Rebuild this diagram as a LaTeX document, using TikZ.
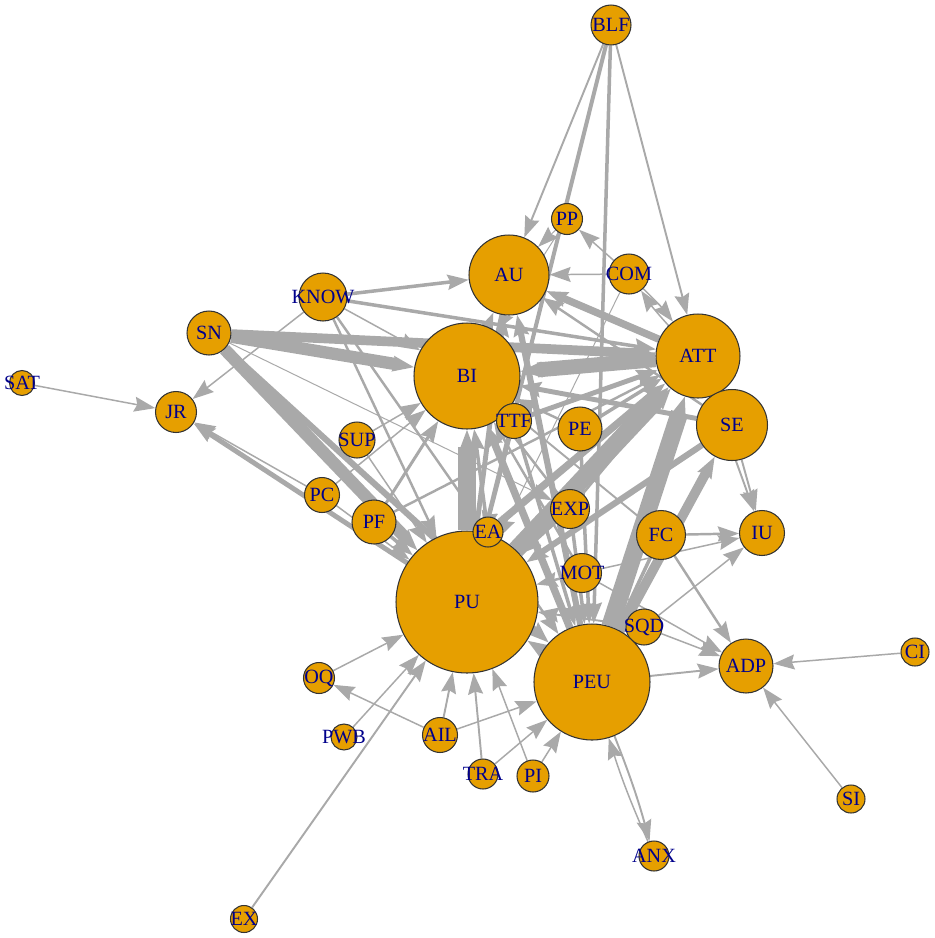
\documentclass[tikz,border=0pt]{standalone}
\usepackage{fontspec}
\setmainfont{Liberation Serif}
\usetikzlibrary{arrows.meta}
\usetikzlibrary{backgrounds}
\definecolor{vfill}{HTML}{E69F00}
\definecolor{vtext}{HTML}{00008B}
\definecolor{egray}{HTML}{A9A9A9}
\tikzset{x=0.02cm, y=-0.02cm,
vtx/.style={ % one disc per construct
circle, draw=black!80, line width=0.6pt,
fill=vfill, inner sep=0pt, minimum size=#1},
every label/.style={text=vtext, font=\fontsize{11.5}{11.5}\selectfont},
every edge/.style={ % directed path, width = weight
draw=egray,
-{Stealth[length=12pt,width=8.5pt,inset=1.5pt]}},
wt/.style={line width=#1pt}}

\begin{document}
\begin{tikzpicture}
\useasboundingbox (0,0) rectangle (935,938);
\node[vtx=0.80cm, label=center:BLF] (BLF) at (611,25) {};
\node[vtx=0.62cm, label=center:PP] (PP) at (567,219) {};
\node[vtx=1.60cm, label=center:AU] (AU) at (509,275) {};
\node[vtx=0.80cm, label=center:COM] (COM) at (629,274) {};
\node[vtx=0.96cm, label=center:KNOW] (KNOW) at (323,297) {};
\node[vtx=0.88cm, label=center:SN] (SN) at (209,333) {};
\node[vtx=1.68cm, label=center:ATT] (ATT) at (698,356) {};
\node[vtx=2.12cm, label=center:BI] (BI) at (467,376) {};
\node[vtx=0.50cm, label=center:SAT] (SAT) at (22,383) {};
\node[vtx=0.82cm, label=center:JR] (JR) at (176,412) {};
\node[vtx=0.70cm, label=center:TTF] (TTF) at (514,421) {};
\node[vtx=0.88cm, label=center:PE] (PE) at (580,429) {};
\node[vtx=1.42cm, label=center:SE] (SE) at (732,425) {};
\node[vtx=0.72cm, label=center:SUP] (SUP) at (357,440) {};
\node[vtx=0.70cm, label=center:PC] (PC) at (322,495) {};
\node[vtx=0.88cm, label=center:PF] (PF) at (374,522) {};
\node[vtx=0.78cm, label=center:EXP] (EXP) at (570,509) {};
\node[vtx=0.98cm, label=center:FC] (FC) at (661,535) {};
\node[vtx=0.90cm, label=center:IU] (IU) at (762,533) {};
\node[vtx=0.78cm, label=center:MOT] (MOT) at (582,573) {};
\node[vtx=2.84cm, label=center:PU] (PU) at (467,602) {};
\node[vtx=0.60cm, label=center:EA] (EA) at (488,532) {};
\node[vtx=0.72cm, label=center:SQD] (SQD) at (644,627) {};
\node[vtx=2.32cm, label=center:PEU] (PEU) at (592,682) {};
\node[vtx=1.08cm, label=center:ADP] (ADP) at (746,666) {};
\node[vtx=0.56cm, label=center:CI] (CI) at (915,652) {};
\node[vtx=0.62cm, label=center:OQ] (OQ) at (319,678) {};
\node[vtx=0.52cm, label=center:PWB] (PWB) at (344,737) {};
\node[vtx=0.70cm, label=center:AIL] (AIL) at (440,735) {};
\node[vtx=0.60cm, label=center:TRA] (TRA) at (483,774) {};
\node[vtx=0.64cm, label=center:PI] (PI) at (533,776) {};
\node[vtx=0.56cm, label=center:SI] (SI) at (851,799) {};
\node[vtx=0.60cm, label=center:ANX] (ANX) at (654,856) {};
\node[vtx=0.54cm, label=center:EX] (EX) at (244,919) {};
\begin{scope}[on background layer]
% heavy paths
\draw (SN) edge[wt=7] (BI);
\draw (SN) edge[wt=5.5] (ATT);
\draw (SN) edge[wt=7] (PU);
\draw (SN) edge[wt=3.5] (PEU);
\draw (ATT) edge[wt=8.5] (BI);
\draw (PU) edge[wt=10] (BI);
\draw (PU) edge[wt=10] (ATT);
\draw (PEU) edge[wt=10] (ATT);
\draw (PEU) edge[wt=5.5] (SE);
\draw (PEU) edge[wt=7] (PU);
\draw (BI) edge[wt=4.2] (AU);
\draw (PEU) edge[wt=4.2] (BI);
\draw (PU) edge[wt=2.8] (AU);
\draw (PEU) edge[wt=3.5] (AU);
\draw (ATT) edge[wt=4.2] (AU);
\draw (EA) edge[wt=4.2] (ATT);
\draw (SE) edge[wt=3.5] (PU);
\draw (SE) edge[wt=2.8] (BI);
% medium paths
\draw (BLF) edge[wt=1.1] (AU);
\draw (BLF) edge[wt=2.3] (PU);
\draw (BLF) edge[wt=2] (PEU);
\draw (BLF) edge[wt=1.1] (ATT);
\draw (KNOW) edge[wt=2] (AU);
\draw (KNOW) edge[wt=2] (ATT);
\draw (KNOW) edge[wt=0.85] (BI);
\draw (KNOW) edge[wt=0.85] (JR);
\draw (KNOW) edge[wt=1.4] (PU);
\draw (KNOW) edge[wt=1.4] (PEU);
\draw (EA) edge[wt=2] (BI);
\draw (TTF) edge[wt=2.8] (ATT);
\draw (TTF) edge[wt=2] (PU);
\draw (TTF) edge[wt=2] (PEU);
\draw (PE) edge[wt=2] (ATT);
\draw (PE) edge[wt=2] (PEU);
\draw (PE) edge[wt=1.4] (BI);
\draw (EXP) edge[wt=2] (PEU);
\draw (EXP) edge[wt=2] (PU);
\draw (EXP) edge[wt=1.4] (ATT);
\draw (EXP) edge[wt=1.4] (BI);
\draw (SE) edge[wt=2] (ATT);
\draw (SE) edge[wt=1.1] (IU);
\draw (SE) edge[wt=1.4] (AU);
\draw (ATT) edge[wt=1.1] (IU);
\draw (FC) edge[wt=2] (PEU);
\draw (FC) edge[wt=1.4] (IU);
\draw (FC) edge[wt=1.4] (ADP);
\draw (FC) edge[wt=1.1] (BI);
\draw (MOT) edge[wt=1.4] (PU);
\draw (MOT) edge[wt=0.85] (IU);
\draw (MOT) edge[wt=0.85] (ADP);
\draw (MOT) edge[wt=1.4] (BI);
\draw (PU) edge[wt=2.8] (JR);
\draw (PF) edge[wt=1.7] (BI);
\draw (PF) edge[wt=2] (PU);
\draw (PF) edge[wt=1.4] (ATT);
% light paths
\draw (SN) edge[wt=0.57] (EXP);
\draw (SAT) edge[wt=0.85] (JR);
\draw (PC) edge[wt=0.85] (JR);
\draw (PC) edge[wt=0.85] (BI);
\draw (PC) edge[wt=0.85] (PU);
\draw (SUP) edge[wt=0.85] (BI);
\draw (SUP) edge[wt=0.85] (PU);
\draw (COM) edge[wt=0.85] (AU);
\draw (COM) edge[wt=0.85] (PP);
\draw (COM) edge[wt=0.85, bend left=4] (ATT);
\draw (ATT) edge[wt=0.85, bend left=4] (COM);
\draw (COM) edge[wt=0.57] (PU);
\draw (PP) edge[wt=0.57] (AU);
\draw (PP) edge[wt=0.57] (BI);
\draw (SQD) edge[wt=0.85] (IU);
\draw (SQD) edge[wt=0.85] (ADP);
\draw (SQD) edge[wt=1.1] (PU);
\draw (PEU) edge[wt=1.1] (ADP);
\draw (PEU) edge[wt=1.1, bend left=3] (ANX);
\draw (ANX) edge[wt=0.85, bend left=3] (PEU);
\draw (CI) edge[wt=0.85] (ADP);
\draw (SI) edge[wt=0.85] (ADP);
\draw (OQ) edge[wt=0.85] (PU);
\draw (AIL) edge[wt=0.85] (OQ);
\draw (PWB) edge[wt=0.85] (PU);
\draw (EX) edge[wt=1.1] (PU);
\draw (AIL) edge[wt=1.1] (PU);
\draw (AIL) edge[wt=0.85] (PEU);
\draw (TRA) edge[wt=1.1] (PU);
\draw (TRA) edge[wt=0.85] (PEU);
\draw (PI) edge[wt=0.85] (PU);
\draw (PI) edge[wt=0.85] (PEU);
\end{scope}
\end{tikzpicture}
\end{document}
